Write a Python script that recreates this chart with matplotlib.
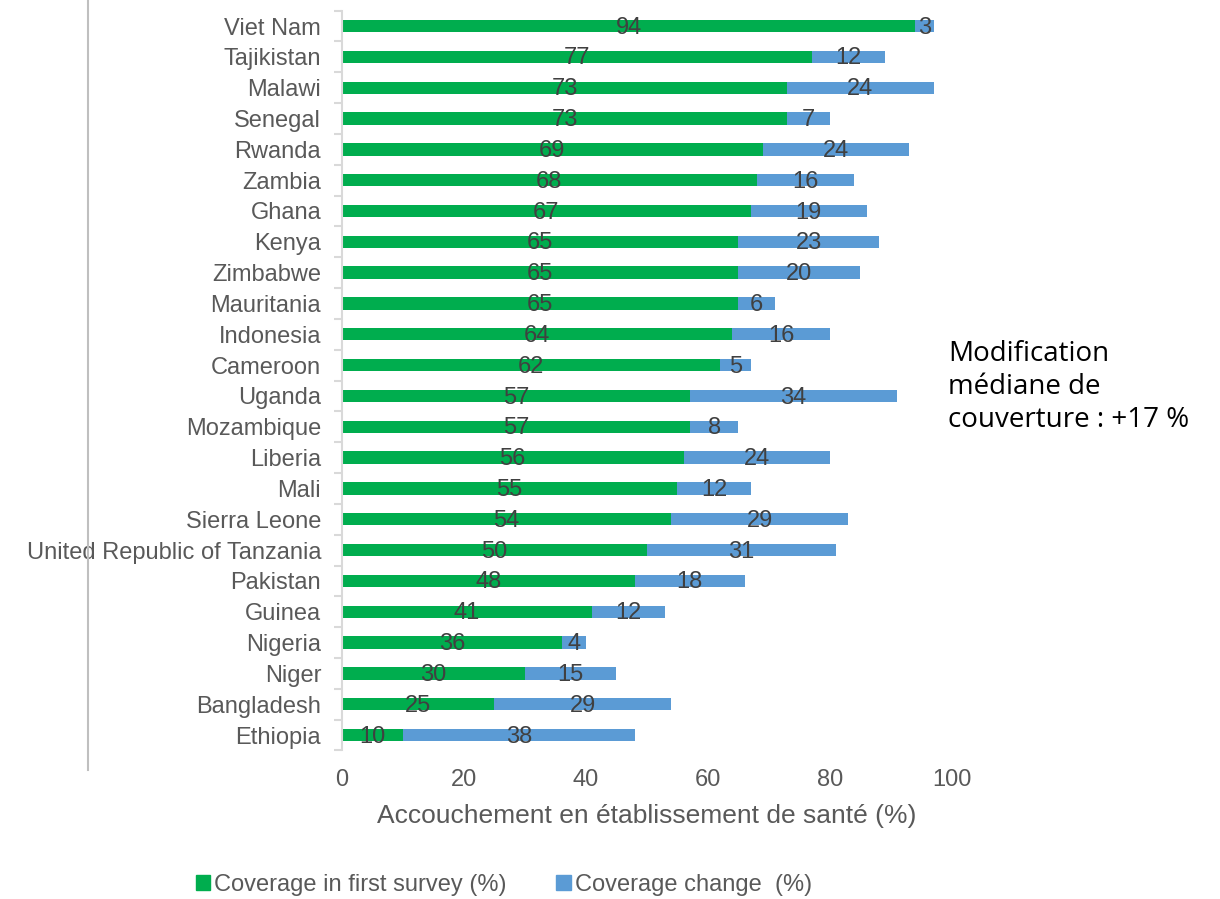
import matplotlib
matplotlib.use("Agg")
import matplotlib.pyplot as plt
from matplotlib.lines import Line2D
from matplotlib.patches import Patch

countries = [
    "Viet Nam", "Tajikistan", "Malawi", "Senegal", "Rwanda", "Zambia",
    "Ghana", "Kenya", "Zimbabwe", "Mauritania", "Indonesia", "Cameroon",
    "Uganda", "Mozambique", "Liberia", "Mali", "Sierra Leone",
    "United Republic of Tanzania", "Pakistan", "Guinea", "Nigeria",
    "Niger", "Bangladesh", "Ethiopia",
]
first_survey = [94, 77, 73, 73, 69, 68, 67, 65, 65, 65, 64, 62,
                57, 57, 56, 55, 54, 50, 48, 41, 36, 30, 25, 10]
coverage_change = [3, 12, 24, 7, 24, 16, 19, 23, 20, 6, 16, 5,
                   34, 8, 24, 12, 29, 31, 18, 12, 4, 15, 29, 38]

GREEN = "#00AD4E"
BLUE = "#5B9BD5"
TEXT = "#595959"
LABEL = "#404040"
AXIS = "#D9D9D9"

plt.rcParams["font.family"] = ["Liberation Sans", "DejaVu Sans"]

fig = plt.figure(figsize=(12.2, 8.99), dpi=100)
ax = fig.add_axes([0.2803, 0.1652, 0.5000, 0.8230])

n = len(countries)
ypos = list(range(n))
ax.barh(ypos, first_survey, height=0.4, color=GREEN)
ax.barh(ypos, coverage_change, left=first_survey, height=0.4, color=BLUE)

for y, a, b in zip(ypos, first_survey, coverage_change):
    ax.text(a / 2, y + 0.05, f"{a}", ha="center", va="center", fontsize=17, color=LABEL)
    ax.text(a + b / 2, y + 0.05, f"{b}", ha="center", va="center", fontsize=17, color=LABEL)

ax.set_ylim(n - 0.5, -0.5)
ax.set_xlim(0, 100)
ax.set_yticks(ypos)
ax.set_yticklabels(countries, fontsize=17, color=TEXT)
ax.tick_params(axis="y", length=0, pad=15)
# boundary ticks between categories
ax.set_yticks([i - 0.5 for i in range(n + 1)], minor=True)
ax.tick_params(axis="y", which="minor", length=6, color=AXIS, width=1.5)

ax.set_xticks([0, 20, 40, 60, 80, 100])
ax.tick_params(axis="x", length=0, labelsize=17, labelcolor=TEXT, pad=13)
ax.set_xlabel("Accouchement en établissement de santé (%)", fontsize=19, color=TEXT,
              labelpad=10)

for side in ["top", "right", "bottom"]:
    ax.spines[side].set_visible(False)
ax.spines["left"].set_color(AXIS)
ax.spines["left"].set_linewidth(1.5)

# thin frame line on the far left
fig.add_artist(Line2D([88 / 1220, 88 / 1220], [1.0, 1 - 770 / 899],
                      transform=fig.transFigure, color="#BFBFBF", linewidth=1.5))

fig.text(948 / 1220, 1 - 387 / 899,
         "Modification\nmédiane de\ncouverture : +17 %",
         ha="left", va="center", fontsize=20, color="black",
         family=["Open Sans", "DejaVu Sans"], linespacing=1.25)

handles = [Patch(color=GREEN), Patch(color=BLUE)]
fig.legend(handles, ["Coverage in first survey (%)", "Coverage change  (%)"],
           loc="center", bbox_to_anchor=(504 / 1220, 1 - 885 / 899), ncol=2,
           frameon=False, fontsize=17, labelcolor=TEXT, handlelength=0.6,
           handleheight=0.6, handletextpad=0.2, columnspacing=2.1)

fig.savefig("out.png", dpi=100)
